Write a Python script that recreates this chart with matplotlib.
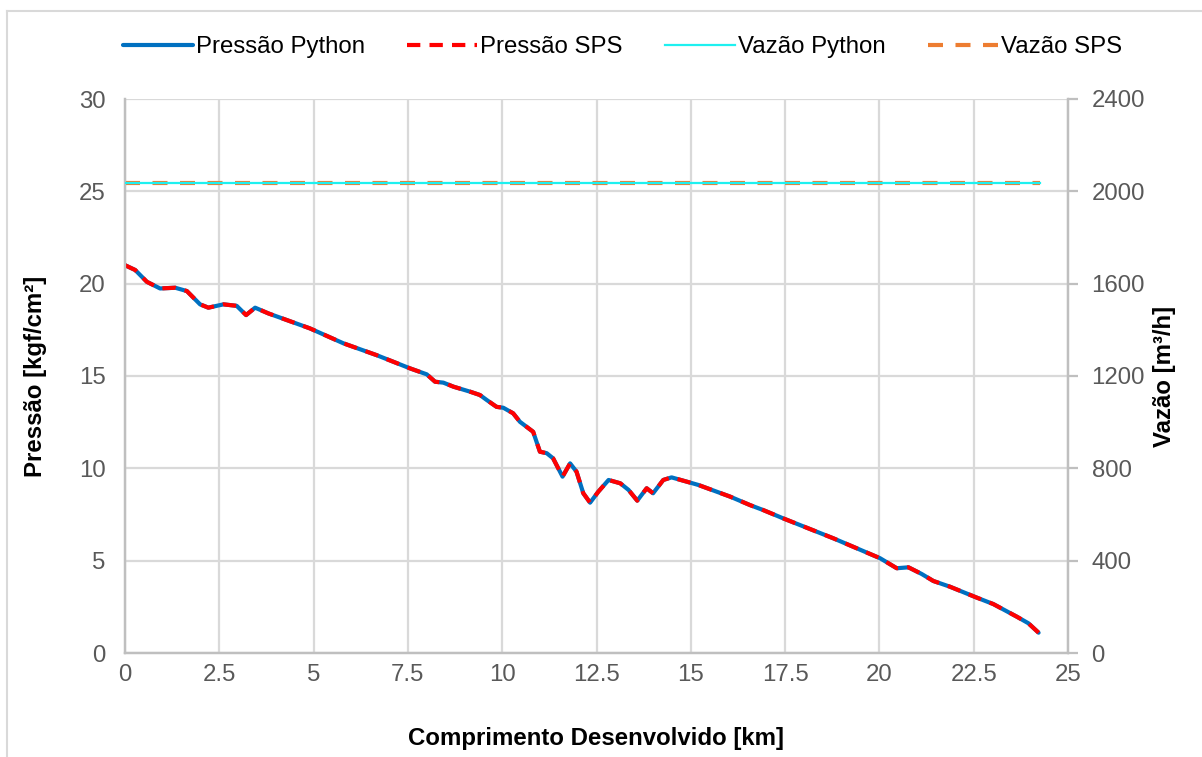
import matplotlib
matplotlib.use("Agg")
import matplotlib.pyplot as plt
from matplotlib.lines import Line2D

plt.rcParams['font.family'] = ['Liberation Sans', 'DejaVu Sans']

# Data
dist_km = [0.0, 0.27, 0.58, 0.93, 1.33, 1.64, 1.99, 2.21, 2.61, 2.96, 3.21, 3.45, 3.8,
           4.9, 5.79, 6.67, 7.56, 8.0, 8.22, 8.44, 8.71, 9.15, 9.41, 9.59, 9.85, 10.03,
           10.29, 10.47, 10.82, 11.0, 11.18, 11.35, 11.6, 11.8, 11.97, 12.15, 12.33,
           12.55, 12.82, 13.13, 13.35, 13.58, 13.83, 14.0, 14.27, 14.49, 14.89, 15.2,
           16.04, 16.57, 16.92, 17.45, 18.78, 20.02, 20.46, 20.77, 21.12, 21.43, 21.87,
           22.58, 23.02, 23.64, 23.95, 24.22]
pressao_python = [21.0, 20.74, 20.1, 19.74, 19.78, 19.6, 18.88, 18.7, 18.88, 18.8, 18.3,
                  18.7, 18.39, 17.58, 16.77, 16.13, 15.41, 15.09, 14.69, 14.64, 14.42,
                  14.15, 13.97, 13.7, 13.33, 13.28, 12.98, 12.52, 11.98, 10.9, 10.82,
                  10.54, 9.55, 10.27, 9.82, 8.65, 8.14, 8.74, 9.37, 9.19, 8.83, 8.25,
                  8.92, 8.65, 9.37, 9.51, 9.28, 9.1, 8.47, 8.01, 7.74, 7.29, 6.21, 5.13,
                  4.59, 4.64, 4.28, 3.9, 3.59, 3.0, 2.65, 1.97, 1.61, 1.1]
pressao_sps = list(pressao_python)
flow_km = [0.0, 24.25]
vazao_python = [2037, 2037]
vazao_sps = [2037, 2037]

x_ticks = [0, 2.5, 5, 7.5, 10, 12.5, 15, 17.5, 20, 22.5, 25]
x_tick_labels = ['0', '2.5', '5', '7.5', '10', '12.5', '15', '17.5', '20', '22.5', '25']
yl_ticks = [0, 5, 10, 15, 20, 25, 30]
yr_ticks = [0, 400, 800, 1200, 1600, 2000, 2400]

W, H = 1202, 757
fig = plt.figure(figsize=(W / 100, H / 100), dpi=100)
ax = fig.add_axes([125 / W, 1 - 653 / H, (1068 - 125) / W, (653 - 99) / H])
ax2 = ax.twinx()

grid_c = '#D9D9D9'
spine_c = '#BFBFBF'
tick_c = '#595959'
fs = 17.3

# Outer chart-area border
fig.add_artist(Line2D([7 / W, 7 / W], [0, 1 - 11 / H], transform=fig.transFigure, color=grid_c, lw=1.5))
fig.add_artist(Line2D([7 / W, 1], [1 - 11 / H, 1 - 11 / H], transform=fig.transFigure, color=grid_c, lw=1.5))

l1, = ax.plot(dist_km, pressao_python, color='#0070C0', lw=3.0, solid_joinstyle='round',
              solid_capstyle='round', zorder=3, label='Pressão Python')
l2, = ax.plot(dist_km, pressao_sps, color='#FF0000', lw=3.0, dashes=(3.2, 2.2),
              dash_joinstyle='round', zorder=4, label='Pressão SPS')
l3, = ax2.plot(flow_km, vazao_python, color='#1EF0F0', lw=1.6, zorder=3, label='Vazão Python')
l4, = ax2.plot(flow_km, vazao_sps, color='#ED7D31', lw=3.0, dashes=(3.6, 3.0), zorder=2,
               label='Vazão SPS')

ax.set_xlim(0, 25)
ax.set_ylim(0, 30)
ax2.set_ylim(0, 2400)
ax.set_xticks(x_ticks)
ax.set_xticklabels(x_tick_labels)
ax.set_yticks(yl_ticks)
ax2.set_yticks(yr_ticks)

ax.grid(True, color=grid_c, lw=1.6)
ax.set_axisbelow(True)
for a in (ax, ax2):
    a.spines['top'].set_visible(False)
    for s in ['left', 'right', 'bottom']:
        a.spines[s].set_color(spine_c)
        a.spines[s].set_linewidth(1.6)

ax.tick_params(axis='x', length=0, pad=8, labelsize=fs, labelcolor=tick_c)
ax.tick_params(axis='y', length=0, pad=14, labelsize=fs, labelcolor=tick_c)
ax2.tick_params(axis='x', length=0)
ax2.tick_params(axis='y', length=7, width=1.6, color=spine_c, pad=10, labelsize=fs, labelcolor=tick_c)

ax.set_xlabel('Comprimento Desenvolvido [km]', fontsize=fs, fontweight='bold', va='center')
ax.set_ylabel('Pressão [kgf/cm²]', fontsize=fs, fontweight='bold', va='center')
ax2.set_ylabel('Vazão [m³/h]', fontsize=fs, fontweight='bold', rotation=90, va='center')
ax.xaxis.set_label_coords(0.5, -(739 - 653) / (653 - 99))
ax.yaxis.set_label_coords(-(125 - 36) / (1068 - 125), 0.5)
ax2.yaxis.set_label_coords((1165 - 125) / (1068 - 125), 0.5)

fig.legend(handles=[l1, l2, l3, l4], loc='center', bbox_to_anchor=(0.518, 1 - 47 / H), ncol=4,
           frameon=False, fontsize=fs, handlelength=2.9, handletextpad=0.15, columnspacing=1.75)

fig.savefig('out.png', dpi=100)
